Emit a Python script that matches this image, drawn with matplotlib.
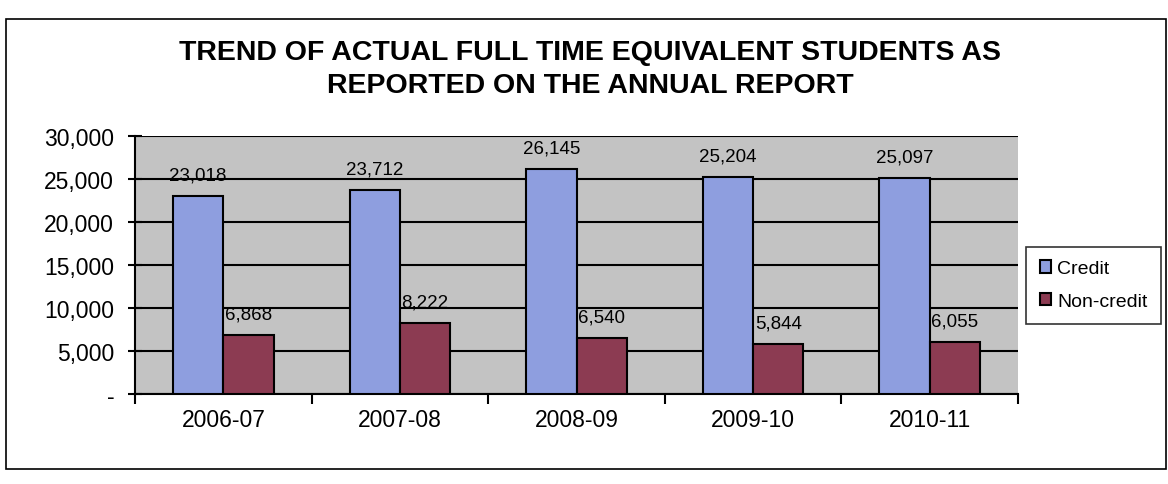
import matplotlib.pyplot as plt
import numpy as np
from matplotlib.patches import Rectangle
from matplotlib.ticker import FuncFormatter

# data
lata = ["2006-07", "2007-08", "2008-09", "2009-10", "2010-11"]
credit = [23018, 23712, 26145, 25204, 25097]
non_credit = [6868, 8222, 6540, 5844, 6055]

plt.rcParams['font.family'] = ['Liberation Sans', 'DejaVu Sans']

fig = plt.figure(figsize=(11.68, 4.85), dpi=100)
ax = fig.add_axes([0.1156, 0.1856, 0.756, 0.532])

x = np.arange(len(lata))
szer = 0.285
b1 = ax.bar(x - szer / 2, credit, szer, color='#8E9EDF', edgecolor='black',
            linewidth=1.5, label='Credit', zorder=3)
b2 = ax.bar(x + szer / 2, non_credit, szer, color='#8C3B52', edgecolor='black',
            linewidth=1.5, label='Non-credit', zorder=3)

for slupki in (b1, b2):
    ax.bar_label(slupki, labels=[f'{v:,}' for v in slupki.datavalues],
                 padding=9, fontsize=13.5, zorder=4)

ax.set_facecolor('#C3C3C3')
ax.set_xlim(-0.5, len(lata) - 0.5)
ax.set_ylim(0, 30000)
ax.set_yticks(np.arange(0, 30001, 5000))
ax.yaxis.set_major_formatter(FuncFormatter(lambda v, p: '-' if v == 0 else f'{v:,.0f}'))
ax.grid(axis='y', color='black', linewidth=1.5, zorder=1)
ax.set_axisbelow(True)

ax.set_xticks(x)
ax.set_xticklabels(lata)
ax.set_xticks(np.arange(len(lata) + 1) - 0.5, minor=True)
ax.tick_params(axis='x', which='major', length=0, labelsize=16.5, pad=10)
ax.tick_params(axis='x', which='minor', length=7, width=1.5, direction='out')
ax.tick_params(axis='y', length=10, width=1.5, direction='inout', labelsize=16.5, pad=10)

for s in ['top', 'right']:
    ax.spines[s].set_visible(False)
for s in ['left', 'bottom']:
    ax.spines[s].set_linewidth(1.5)

fig.text(0.505, 0.857, 'TREND OF ACTUAL FULL TIME EQUIVALENT STUDENTS AS\nREPORTED ON THE ANNUAL REPORT',
         ha='center', va='center', fontsize=20.5, fontweight='bold', linespacing=1.35)

leg = fig.legend(loc='center left', bbox_to_anchor=(0.8785, 0.41), fontsize=14,
                 frameon=True, fancybox=False, edgecolor='black', handlelength=0.6,
                 handleheight=0.6, handletextpad=0.3, labelspacing=0.8, borderpad=0.7,
                 borderaxespad=0)
leg.get_frame().set_linewidth(1.2)

# ramka wokół całego wykresu
fig.patches.append(Rectangle((0.005, 0.031), 0.993, 0.928, transform=fig.transFigure,
                             fill=False, edgecolor='black', linewidth=1.2))

fig.savefig('out.png', dpi=100)
